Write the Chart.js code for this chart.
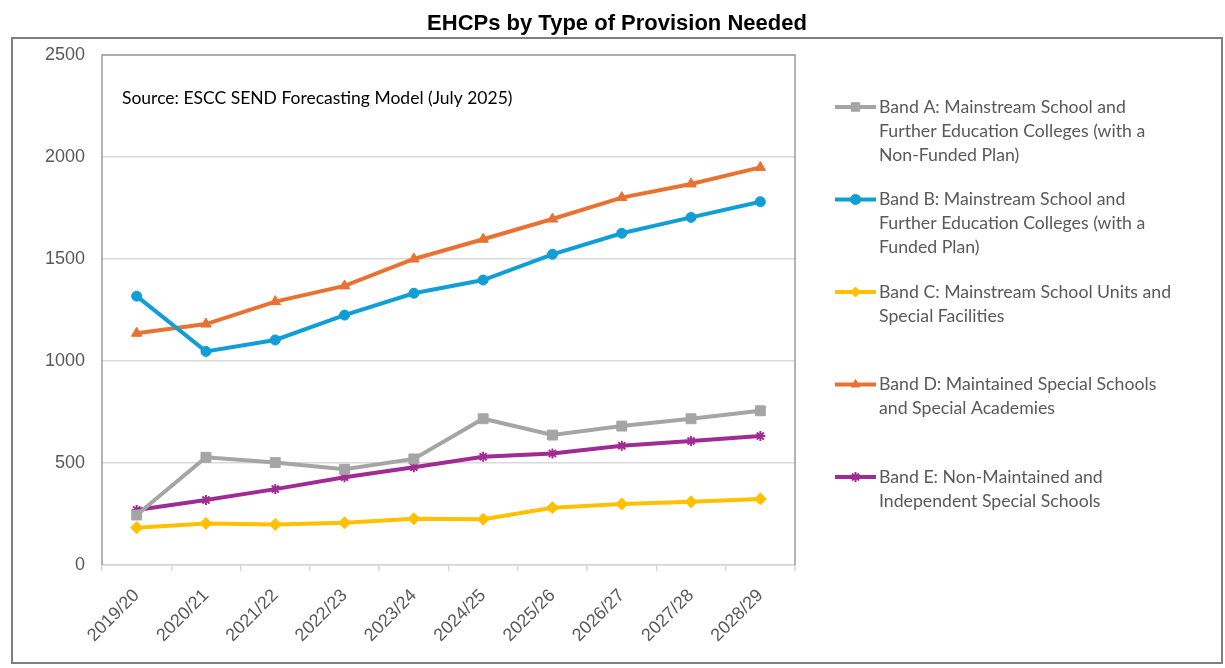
<!DOCTYPE html>
<html>
<head>
<meta charset="utf-8">
<title>EHCPs by Type of Provision Needed</title>
<script src="https://cdn.jsdelivr.net/npm/chart.js@4/dist/chart.umd.min.js"></script>
<style>
  html, body { margin: 0; padding: 0; background: #fff; }
  #wrap { width: 1225px; height: 668px; position: relative; }
</style>
</head>
<body>
<div id="wrap"><canvas id="chart" width="1225" height="668"></canvas></div>
<script>
// Academic years on the x axis
const years = ['2019/20', '2020/21', '2021/22', '2022/23', '2023/24',
               '2024/25', '2025/26', '2026/27', '2027/28', '2028/29'];

// Number of EHCPs per band
const bandA = [245, 528, 502, 469, 520, 717, 637, 681, 717, 756];
const bandB = [1318, 1047, 1103, 1225, 1332, 1397, 1523, 1626, 1704, 1781];
const bandC = [183, 204, 199, 207, 227, 224, 281, 299, 310, 324];
const bandD = [1136, 1181, 1291, 1368, 1500, 1597, 1696, 1801, 1868, 1949];
const bandE = [270, 319, 372, 430, 479, 531, 547, 585, 608, 632];

// Legend wording, one entry per line of text
const legendA = ['Band A: Mainstream School and', 'Further Education Colleges (with a', 'Non-Funded Plan)'];
const legendB = ['Band B: Mainstream School and', 'Further Education Colleges (with a', 'Funded Plan)'];
const legendC = ['Band C: Mainstream School Units and', 'Special Facilities'];
const legendD = ['Band D: Maintained Special Schools', 'and Special Academies'];
const legendE = ['Band E: Non-Maintained and', 'Independent Special Schools'];

// Y axis range
const yMin = 0, yMax = 2500, yStep = 500;

const chartTitle = 'EHCPs by Type of Provision Needed';
const sourceNote = 'Source: ESCC SEND Forecasting Model (July 2025)';

const AXIS_FONT = '"Liberation Sans", Arial, sans-serif';
const BODY_FONT = 'Lato, "Open Sans", sans-serif';
const GREY_TEXT = '#595959';

function series(lines, data, color, style, radius) {
  return {
    label: lines.join(' '),
    legendLines: lines,
    data: data,
    borderColor: color,
    backgroundColor: color,
    pointBackgroundColor: color,
    pointBorderColor: color,
    borderWidth: 4,
    pointStyle: style,
    pointRadius: radius,
    pointBorderWidth: style === 'star' ? 2 : 1,
    tension: 0,
    fill: false
  };
}

const datasets = [
  series(legendA, bandA, '#A5A5A5', 'rect', 7),
  series(legendB, bandB, '#0F9ED5', 'circle', 5),
  series(legendC, bandC, '#FFC000', 'rectRot', 6),
  series(legendD, bandD, '#E97132', 'triangle', 6),
  series(legendE, bandE, '#A02B93', 'star', 5)
];

// Frame, heading, note, plot border and legend
const decorations = {
  id: 'decorations',
  beforeDraw(chart) {
    const ctx = chart.ctx;
    ctx.save();
    ctx.fillStyle = '#ffffff';
    ctx.fillRect(0, 0, chart.width, chart.height);
    ctx.strokeStyle = '#7f7f7f';
    ctx.lineWidth = 2;
    ctx.strokeRect(12, 38, 1210, 625);
    ctx.fillStyle = '#000000';
    ctx.font = 'bold 22px ' + AXIS_FONT;
    ctx.textAlign = 'center';
    ctx.textBaseline = 'middle';
    ctx.fillText(chartTitle, 617, 24);
    ctx.restore();
  },
  beforeDatasetsDraw(chart) {
    const ctx = chart.ctx;
    const a = chart.chartArea;
    ctx.save();
    ctx.lineWidth = 1.5;
    ctx.strokeStyle = '#d9d9d9';
    ctx.beginPath();
    ctx.moveTo(a.left, a.bottom);
    ctx.lineTo(a.right, a.bottom);
    ctx.stroke();
    ctx.strokeStyle = '#9a9a9a';
    ctx.beginPath();
    ctx.moveTo(a.left, a.bottom);
    ctx.lineTo(a.left, a.top);
    ctx.lineTo(a.right, a.top);
    ctx.lineTo(a.right, a.bottom);
    ctx.stroke();
    ctx.fillStyle = '#000000';
    ctx.font = '17.5px ' + BODY_FONT;
    ctx.textAlign = 'left';
    ctx.textBaseline = 'middle';
    ctx.fillText(sourceNote, 122, 98);
    ctx.restore();
  },
  afterDraw(chart) {
    const ctx = chart.ctx;
    ctx.save();
    const x0 = 835, x1 = 876, tx = 879, firstY = 107, gap = 92.5, lineH = 24;
    chart.data.datasets.forEach((ds, i) => {
      const y = firstY + i * gap;
      ctx.strokeStyle = ds.borderColor;
      ctx.lineWidth = 4;
      ctx.lineCap = 'butt';
      ctx.beginPath();
      ctx.moveTo(x0, y);
      ctx.lineTo(x1, y);
      ctx.stroke();
      ctx.fillStyle = ds.pointBackgroundColor;
      ctx.strokeStyle = ds.pointBorderColor;
      ctx.lineWidth = ds.pointBorderWidth;
      Chart.helpers.drawPoint(ctx, {
        pointStyle: ds.pointStyle,
        radius: ds.pointStyle === 'rect' ? 6 : 5,
        rotation: 0,
        borderWidth: ds.pointBorderWidth
      }, (x0 + x1) / 2, y);
      ctx.fillStyle = GREY_TEXT;
      ctx.font = '17.7px ' + BODY_FONT;
      ctx.textAlign = 'left';
      ctx.textBaseline = 'middle';
      ds.legendLines.forEach((line, j) => ctx.fillText(line, tx, y + j * lineH));
    });
    ctx.restore();
  }
};

new Chart(document.getElementById('chart'), {
  type: 'line',
  data: { labels: years, datasets: datasets },
  plugins: [decorations],
  options: {
    responsive: false,
    animation: false,
    layout: { padding: { top: 55, left: 0, right: 430, bottom: 6 } },
    plugins: {
      legend: { display: false },
      title: { display: false },
      tooltip: { enabled: false }
    },
    scales: {
      x: {
        offset: true,
        afterFit(scale) { scale.height = 97; },
        border: { display: false },
        grid: {
          offset: true,
          drawOnChartArea: false,
          drawTicks: true,
          tickLength: 6,
          color: '#d9d9d9',
          lineWidth: 1.5
        },
        ticks: {
          minRotation: 45,
          maxRotation: 45,
          autoSkip: false,
          padding: 14,
          color: GREY_TEXT,
          font: { family: AXIS_FONT, size: 18 }
        }
      },
      y: {
        min: yMin,
        max: yMax,
        afterFit(scale) { scale.width = 102; },
        border: { display: false },
        grid: {
          drawTicks: false,
          color: '#d9d9d9',
          lineWidth: 1.5
        },
        ticks: {
          stepSize: yStep,
          padding: 17,
          color: GREY_TEXT,
          font: { family: AXIS_FONT, size: 18 },
          callback: (value) => String(value)
        }
      }
    }
  }
});
</script>
</body>
</html>
